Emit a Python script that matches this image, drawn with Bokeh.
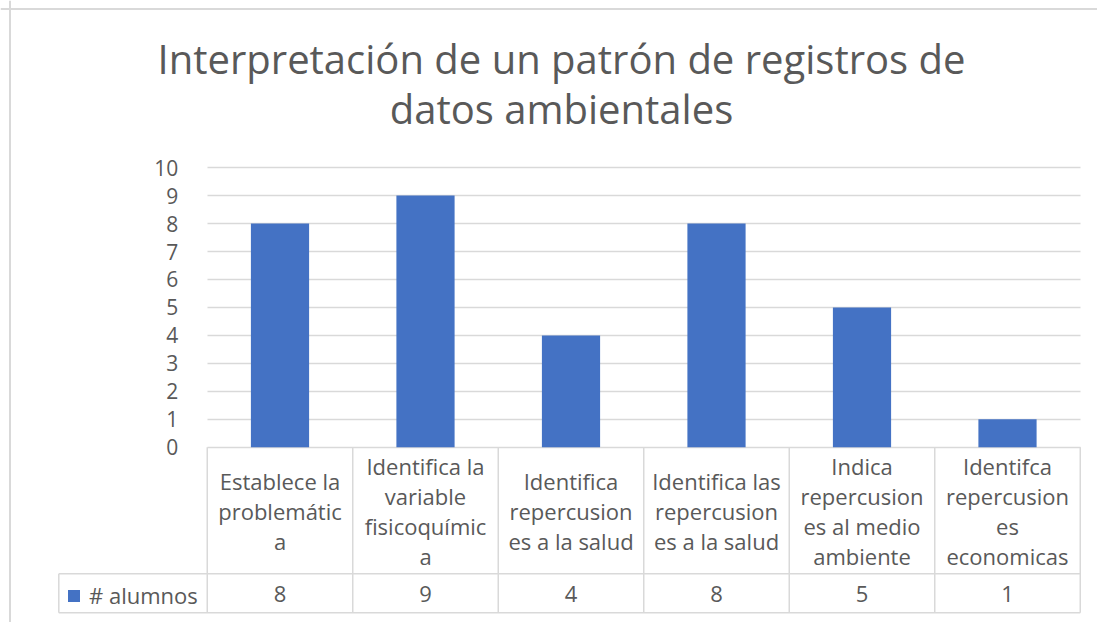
from bokeh.plotting import figure
from bokeh.models import Range1d, FixedTicker, Span, Legend, LegendItem
from bokeh.core.properties import value
from bokeh.embed import file_html
from bokeh.resources import INLINE

# ---- data ----
categories = [
    "Establece la\nproblemátic\na",
    "Identifica la\nvariable\nfisicoquímic\na",
    "Identifica\nrepercusion\nes a la salud",
    "Identifica las\nrepercusion\nes a la salud",
    "Indica\nrepercusion\nes al medio\nambiente",
    "Identifca\nrepercusion\nes\neconomicas",
]
alumnos = [8, 9, 4, 8, 5, 1]
y_ticks = list(range(0, 11))
series_name = "# alumnos"
title_lines = ["Interpretación de un patrón de registros de", "datos ambientales"]

# ---- layout (page pixels) ----
W, H = 1097, 622
PAGE = 0
CAT0 = 279.5
CATW = 145.5
Y0 = 446.8
YU = 27.97
FONT = "Open Sans"
TXT = "#595959"
LINE = "#d9d9d9"


def dx(px):
    return (px - CAT0) / CATW


def dy(py):
    return (Y0 - py) / YU


n = len(categories)
xs = list(range(n))

p = figure(width=W, height=H, output_backend="svg", toolbar_location=None,
           x_range=Range1d(dx(PAGE), dx(PAGE + W)),
           y_range=Range1d(dy(PAGE + H), dy(PAGE)),
           min_border=0, outline_line_color=None, x_axis_type=None)

# y axis at the left edge of the plot area
ax = p.yaxis[0]
ax.fixed_location = -0.5
ax.ticker = FixedTicker(ticks=y_ticks)
ax.axis_line_color = None
ax.major_tick_line_color = None
ax.minor_tick_line_color = None
ax.major_label_text_font = FONT
ax.major_label_text_font_size = "21px"
ax.major_label_text_color = TXT
ax.major_label_standoff = 23

g = p.ygrid[0]
g.grid_line_color = LINE
g.grid_line_width = 1.5
g.cross_bounds = (-0.5, n - 0.5)
p.xgrid.visible = False

bars = p.vbar(x=xs, top=alumnos, bottom=0, width=0.4, fill_color="#4472C4", line_color=None)

# data table below the chart
row1 = dy(573.3)
row2 = dy(612.3)
left = dx(58.3)
p.segment(x0=[left, left], y0=[row1, row2], x1=[n - 0.5, n - 0.5], y1=[row1, row2],
          line_color=LINE, line_width=1.5)
bx = [i - 0.5 for i in range(n + 1)]
p.segment(x0=bx, y0=[0] * len(bx), x1=bx, y1=[row2] * len(bx), line_color=LINE, line_width=1.5)
p.segment(x0=[left], y0=[row1], x1=[left], y1=[row2], line_color=LINE, line_width=1.5)

p.text(x=xs, y=[dy(510)] * n, text=categories, text_align="center", text_baseline="middle",
       text_font=value(FONT), text_font_size="22px", text_color=TXT, text_line_height=1.0)
p.text(x=xs, y=[dy(593)] * n, text=[str(v) for v in alumnos], text_align="center",
       text_baseline="middle", text_font=value(FONT), text_font_size="22px", text_color=TXT)

legend = Legend(items=[LegendItem(label=series_name, renderers=[bars])],
                location=(66, 12), padding=0, margin=0, spacing=0,
                glyph_width=15, glyph_height=15, label_standoff=8,
                label_text_font=FONT, label_text_font_size="22px", label_text_color=TXT,
                border_line_color=None, background_fill_alpha=0)
p.add_layout(legend)

# title
p.text(x=[dx(561)] * 2, y=[dy(58), dy(108)], text=title_lines, text_align="center",
       text_baseline="middle", text_font=value(FONT), text_font_size="40px", text_color=TXT)

# chart border (left/top)
p.add_layout(Span(location=dx(9.5), dimension="height", line_color=LINE, line_width=2))
p.add_layout(Span(location=dy(8.5), dimension="width", line_color=LINE, line_width=2))

open("out.html", "w").write(file_html(p, INLINE))
